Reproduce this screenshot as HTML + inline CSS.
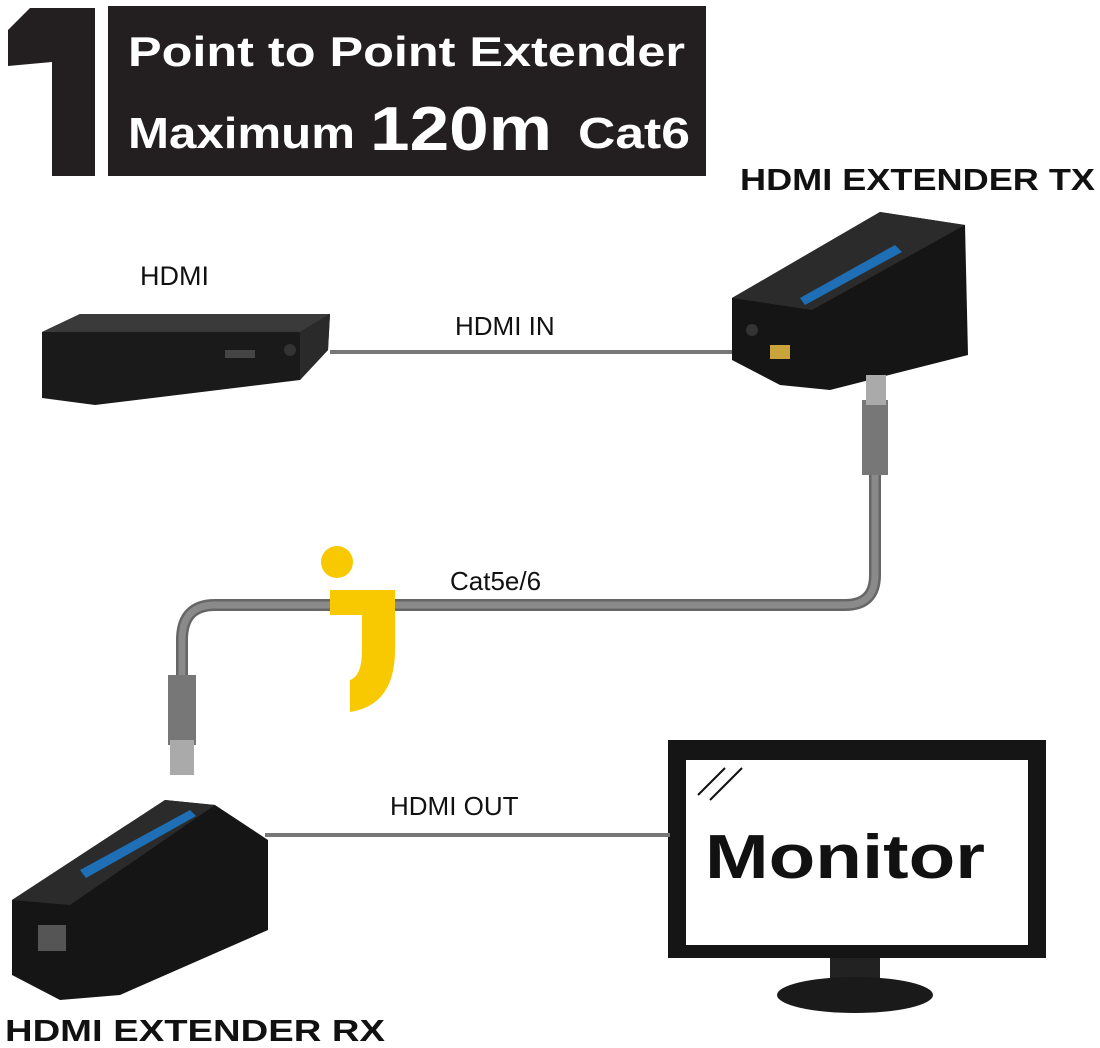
<!DOCTYPE html>
<html><head><meta charset="utf-8"><style>
html,body{margin:0;padding:0;background:#fff}
svg{display:block}
text{font-family:"Liberation Sans",sans-serif}
</style></head><body>
<svg width="1100" height="1048" viewBox="0 0 1100 1048" xmlns="http://www.w3.org/2000/svg">
<rect width="1100" height="1048" fill="#fff"/>
<!-- big 1 -->
<polygon points="30,8 95,8 95,176 52,176 52,62 8,66 8,30" fill="#231f20"/>
<rect x="108" y="6" width="598" height="170" fill="#231f20"/>
<text x="128" y="66" fill="#fff" font-size="42" font-weight="bold" textLength="557" lengthAdjust="spacingAndGlyphs">Point to Point Extender</text>
<text x="128" y="148" fill="#fff" font-size="44" font-weight="bold" textLength="227" lengthAdjust="spacingAndGlyphs">Maximum</text>
<text x="370" y="150" fill="#fff" font-size="62" font-weight="bold" textLength="182" lengthAdjust="spacingAndGlyphs">120m</text>
<text x="578" y="148" fill="#fff" font-size="44" font-weight="bold" textLength="112" lengthAdjust="spacingAndGlyphs">Cat6</text>
<text x="740" y="190" fill="#111" font-size="31" font-weight="bold" textLength="355" lengthAdjust="spacingAndGlyphs">HDMI EXTENDER TX</text>
<text x="140" y="285" fill="#111" font-size="27">HDMI</text>
<!-- DVD player -->
<polygon points="42,332 80,314 330,314 328,350 300,380 95,405 42,398" fill="#1a1a1a"/>
<polygon points="42,332 80,314 330,314 300,332" fill="#3a3a3a"/>
<polygon points="300,332 330,314 328,350 300,380" fill="#2a2a2a"/>
<rect x="225" y="350" width="30" height="8" fill="#444"/>
<circle cx="290" cy="350" r="6" fill="#333"/>
<!-- HDMI IN cable -->
<text x="455" y="335" fill="#111" font-size="26">HDMI IN</text>
<line x1="330" y1="352" x2="770" y2="352" stroke="#777" stroke-width="4"/>
<!-- TX device -->
<polygon points="732,298 880,212 965,225 968,355 830,390 780,385 732,360" fill="#151515"/>
<polygon points="732,298 880,212 965,225 812,310" fill="#2b2b2b"/>
<polygon points="800,298 895,245 902,252 805,305" fill="#1e6fb5"/>
<rect x="770" y="345" width="20" height="14" fill="#c9a43a"/>
<circle cx="752" cy="330" r="6" fill="#333"/>
<!-- Cat cable -->
<path d="M875,470 L875,575 Q875,605 845,605 L215,605 Q182,605 182,640 L182,680" fill="none" stroke="#666" stroke-width="12"/>
<path d="M875,470 L875,575 Q875,605 845,605 L215,605 Q182,605 182,640 L182,680" fill="none" stroke="#8a8a8a" stroke-width="7"/>
<rect x="862" y="400" width="26" height="75" fill="#777"/>
<rect x="866" y="375" width="20" height="30" fill="#aaa"/>
<rect x="168" y="675" width="28" height="70" fill="#777"/>
<rect x="170" y="740" width="24" height="35" fill="#aaa"/>
<text x="450" y="590" fill="#111" font-size="26">Cat5e/6</text>
<!-- yellow logo -->
<circle cx="337" cy="562" r="16" fill="#f8c800"/>
<path d="M330,590 L395,590 L395,650 Q395,705 350,712 L350,680 Q362,676 362,650 L362,615 L330,615 Z" fill="#f8c800"/>
<!-- Monitor -->
<rect x="668" y="740" width="378" height="218" fill="#151515"/>
<rect x="686" y="760" width="342" height="185" fill="#fff"/>
<line x1="698" y1="795" x2="725" y2="768" stroke="#111" stroke-width="2"/>
<line x1="710" y1="800" x2="742" y2="768" stroke="#111" stroke-width="2"/>
<text x="705" y="878" fill="#111" font-size="62" font-weight="bold" textLength="280" lengthAdjust="spacingAndGlyphs">Monitor</text>
<rect x="830" y="958" width="50" height="22" fill="#222"/>
<ellipse cx="855" cy="995" rx="78" ry="18" fill="#1a1a1a"/>
<!-- HDMI OUT -->
<text x="390" y="815" fill="#111" font-size="26">HDMI OUT</text>
<line x1="265" y1="835" x2="670" y2="835" stroke="#777" stroke-width="4"/>
<!-- RX device -->
<polygon points="12,900 165,800 215,805 268,840 268,930 120,995 60,1000 12,975" fill="#151515"/>
<polygon points="12,900 165,800 215,805 70,905" fill="#2b2b2b"/>
<polygon points="80,870 190,810 196,816 86,878" fill="#1e6fb5"/>
<rect x="38" y="925" width="28" height="26" fill="#555"/>
<text x="5" y="1041" fill="#111" font-size="31" font-weight="bold" textLength="380" lengthAdjust="spacingAndGlyphs">HDMI EXTENDER RX</text>
</svg>
</body></html>
